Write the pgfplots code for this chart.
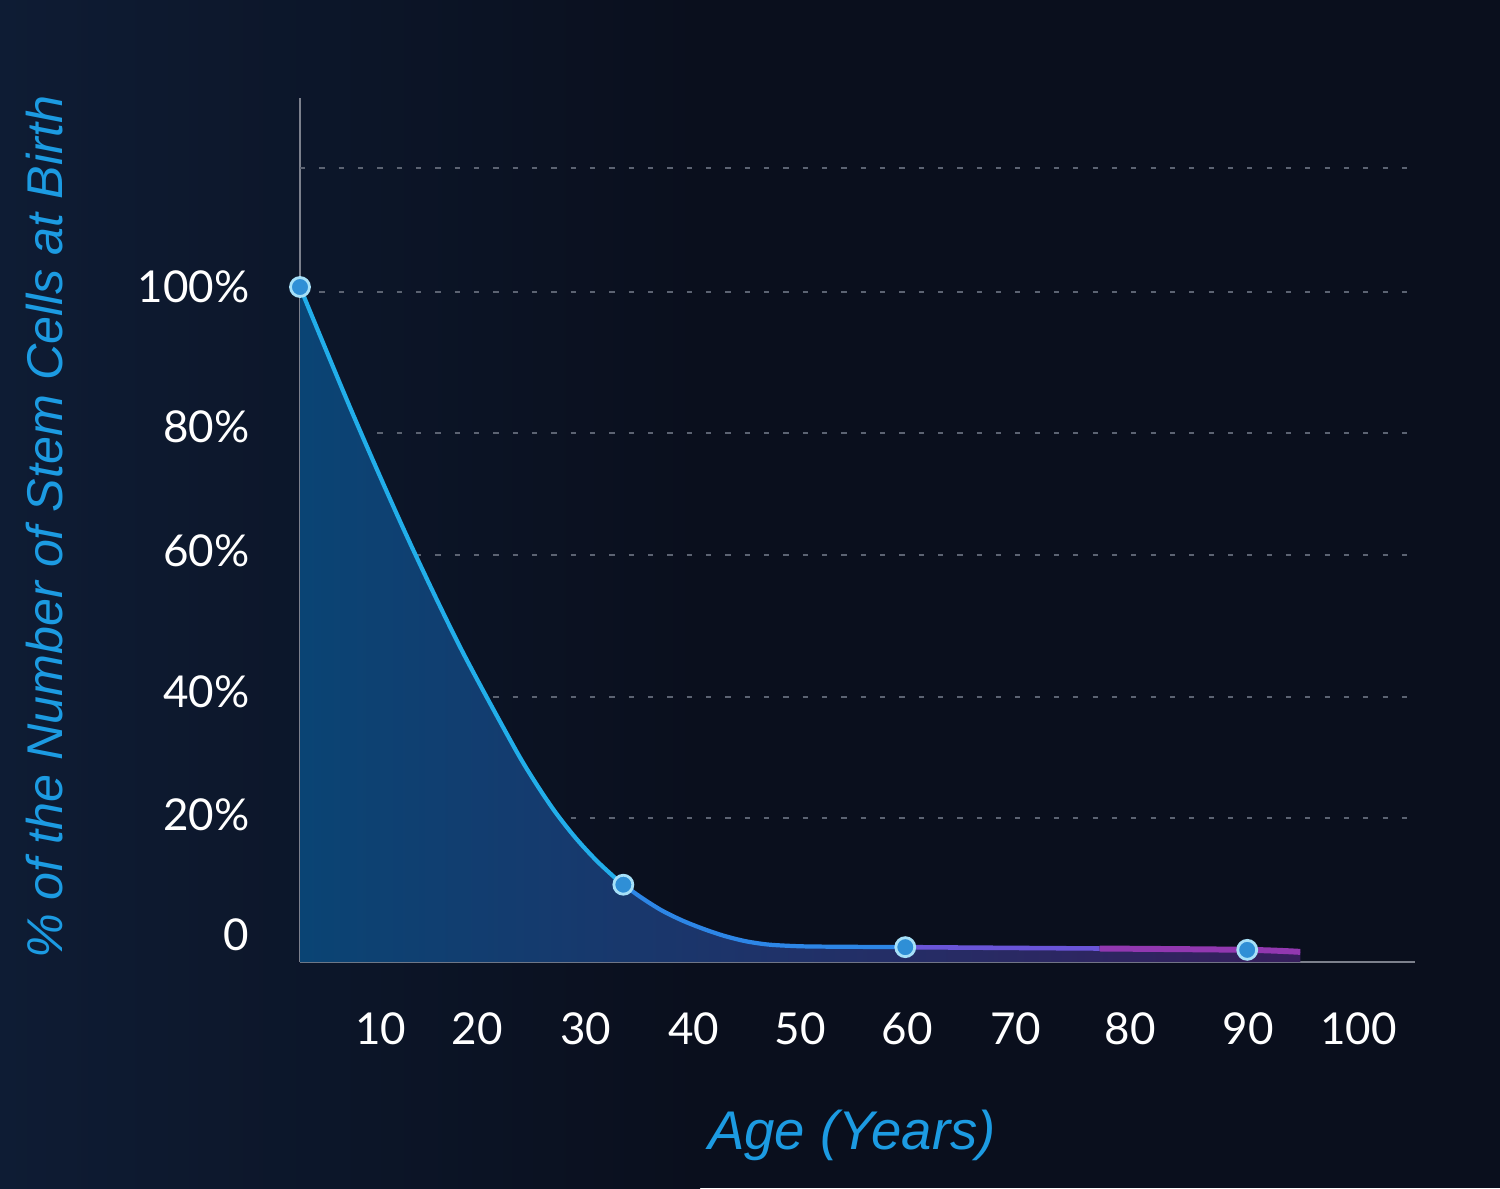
\documentclass[border=0pt]{standalone}
\usepackage{fontspec}
\setmainfont{Lato}
\newfontfamily\labfont{Liberation Sans}
\usepackage{pgfplots}
\usepackage{pgfplotstable}
\pgfplotsset{compat=1.18}
\definecolor{bg}{HTML}{0A0F1D}
\definecolor{bgglow}{HTML}{0E1C34}
\definecolor{axisgray}{HTML}{7C808C}
\definecolor{gridc}{HTML}{5C6372}
\definecolor{labblue}{HTML}{1C9BE2}
\definecolor{fillA}{HTML}{0A4474}
\definecolor{fillB}{HTML}{174C82}
\definecolor{fillC}{HTML}{361E5C}
\definecolor{lineA}{HTML}{22AEEA}
\definecolor{lineB}{HTML}{2D86E6}
\definecolor{lineC}{HTML}{6A55D8}
\definecolor{lineD}{HTML}{9238B0}
\definecolor{mkfill}{HTML}{2F8FD6}
\definecolor{mkedge}{HTML}{A6E0F8}
\pgfplotstableread{
x y
0 100
5 81.1
10 63.3
15 46.9
20 32.3
22 27.0
24 22.3
26 18.3
28 14.9
30 12.0
32 9.7
34 7.7
36 6.15
38 4.9
40 3.85
42 3.07
44 2.6
46 2.4
48 2.3
52 2.25
57 2.2
65.9 2.1
75.3 2.0
89.2 1.8
94.2 1.5
}\curvedata
\begin{document}
\begin{tikzpicture}
\fill[bg] (0,0) rectangle (15,11.88);
\shade[left color=bgglow, right color=bg] (0,0) rectangle (7,11.88);
\begin{axis}[
  at={(3cm,2.26cm)}, anchor=origin,
  scale only axis, width=11.15cm, height=8.64cm,
  xmin=0, xmax=105, ymin=0, ymax=128,
  clip=false,
  axis x line=bottom, axis y line=left,
  axis line style={-, draw=axisgray, line width=0.6pt},
  xtick={7.6,16.7,26.9,37.1,47.1,57.2,67.4,78.2,89.3,99.7},
  xticklabels={10,20,30,40,50,60,70,80,90,100},
  ytick={100,79.3,60.9,40,21.8,4},
  yticklabels={100\%,80\%,60\%,40\%,20\%,0},
  xtick style={draw=none}, ytick style={draw=none},
  major tick length=0pt,
  xticklabel style={anchor=north, inner sep=0pt, yshift=-0.5cm, font=\fontsize{12.5}{14}\selectfont, text=white},
  yticklabel style={anchor=east, inner sep=0pt, xshift=-0.5cm, font=\fontsize{12.5}{14}\selectfont, text=white},
  extra y ticks={117.6,99.3,78.4,60.3,39.3,21.3},
  extra y tick labels={},
  extra y tick style={grid=major, major grid style={draw=gridc, line width=0.5pt, dash pattern=on 1.5pt off 4pt}, tick style={draw=none}},
  xlabel={Age (Years)},
  ylabel={\% of the Number of Stem Cells at Birth},
  xlabel style={at={(axis description cs:0.495,-0.2002)}, anchor=center, font=\labfont\itshape\fontsize{15.5}{18}\selectfont, text=labblue},
  ylabel style={at={(axis description cs:-0.2287,0.503)}, anchor=center, font=\labfont\itshape\fontsize{14.3}{17}\selectfont, text=labblue},
]
% filled area under the curve
\addplot[draw=none, left color=fillA, middle color=fillB, right color=fillC, smooth, tension=0.5] table {\curvedata} \closedcycle;
% curve in coloured segments
\addplot[lineA, line width=1.2pt, smooth, tension=0.5] table[restrict x to domain=0:30.5] {\curvedata};
\addplot[lineB, line width=1.2pt, smooth, tension=0.5] table[restrict x to domain=29.5:58] {\curvedata};
\addplot[lineC, line width=1.3pt, smooth, tension=0.5] table[restrict x to domain=56:76] {\curvedata};
\addplot[lineD, line width=1.7pt, smooth, tension=0.5] table[restrict x to domain=75:95] {\curvedata};
% markers
\addplot[only marks, mark=*, mark size=2.7pt, mark options={fill=mkfill, draw=mkedge, line width=0.8pt}] coordinates {
 (0,100) (30.45,11.45) (57.0,2.2) (89.2,1.8)
};
\end{axis}
\pgfresetboundingbox
\useasboundingbox (0,0) rectangle (15,11.88);
\end{tikzpicture}
\end{document}
